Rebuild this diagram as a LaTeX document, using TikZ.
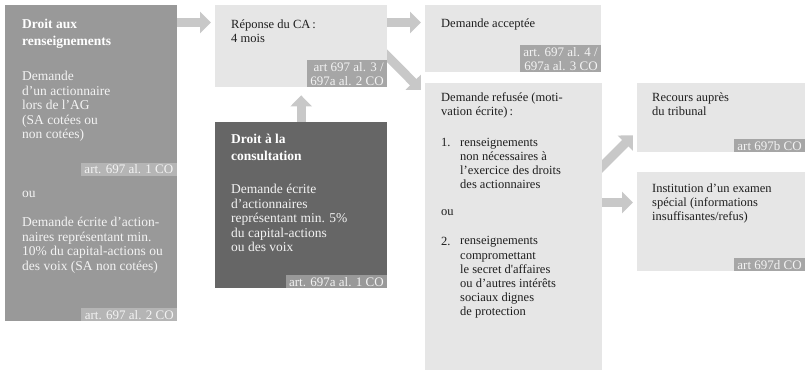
\documentclass[tikz,border=0pt]{standalone}
\usepackage{fontspec}
\setmainfont{Liberation Serif}
\usetikzlibrary{arrows.meta,positioning,backgrounds}
\definecolor{boxGray}{RGB}{153,153,153}
\definecolor{boxDark}{RGB}{102,102,102}
\definecolor{boxLight}{RGB}{230,230,230}
\definecolor{tagPale}{RGB}{181,181,181}
\definecolor{tagGray}{RGB}{166,166,166}
\definecolor{arrowGray}{RGB}{200,200,200}
\definecolor{inkDark}{RGB}{30,30,30}
\definecolor{inkPale}{RGB}{243,243,243}

\begin{document}
\begin{tikzpicture}[x=1pt,y=-1pt,
  box/.style={rectangle,anchor=north west,inner sep=0pt},
  bodylight/.style={anchor=north west,inner sep=0pt,align=left,text=inkPale,font={\fontsize{13.5}{14.5}\selectfont}},
  bodydark/.style={bodylight,text=inkDark,font={\fontsize{12.5}{14.1}\selectfont}},
  oneline/.style={anchor=base west},
  title/.style={bodylight,text=white,font={\fontsize{13.5}{17}\selectfont\bfseries}},
  tag/.style={anchor=south east,fill=#1,text=inkPale,inner xsep=3.5pt,inner ysep=2pt,align=right,font={\fontsize{13}{14}\selectfont}},
  fatarrow/.style={draw=arrowGray,line width=9pt,-{Triangle[length=11pt,width=21pt]}}]
\useasboundingbox (0,0) rectangle (805,370);

\node[box,fill=boxGray,minimum width=172pt,minimum height=316pt] (rens) at (5,5) {};
\node[title] (renstitle) at (22,19) {Droit aux\\renseignements};
\node[bodylight] (rensAG) at (22,71) {Demande\\d’un actionnaire\\lors de l’AG\\(SA cotées ou\\non cotées)};
\node[tag=tagPale] (rensart1) at (177,176) {art. 697 al. 1 CO};
\node[bodylight,oneline] (rensou) at (22,197) {ou};
\node[bodylight] (rensecrit) at (22,217) {Demande écrite d’action-\\naires représentant min.\\10\% du capital-actions ou\\des voix (SA non cotées)};
\node[tag=tagPale] (rensart2) at (rens.south east) {art. 697 al. 2 CO};

\node[box,fill=boxLight,minimum width=172pt,minimum height=82pt] (rep) at (215,5) {};
\node[bodydark] (reptext) at (231,19.5) {Réponse du CA\,:\\4 mois};
\node[tag=tagGray] (repart) at (rep.south east) {art 697 al. 3 /\\697a al. 2 CO};

\node[box,fill=boxDark,minimum width=172pt,minimum height=166pt] (consult) at (215,122) {};
\node[title] (consulttitle) at (231,134) {Droit à la\\consultation};
\node[bodylight] (consulttext) at (231,184) {Demande écrite\\d’actionnaires\\représentant min. 5\%\\du capital-actions\\ou des voix};
\node[tag=boxGray] (consultart) at (consult.south east) {art. 697a al. 1 CO};

\node[box,fill=boxLight,minimum width=176pt,minimum height=67pt] (accept) at (425,5) {};
\node[bodydark] (accepttext) at (441,18.5) {Demande acceptée};
\node[tag=tagGray] (acceptart) at (accept.south east) {art. 697 al. 4 /\\697a al. 3 CO};

\node[box,fill=boxLight,minimum width=177pt,minimum height=287pt] (refus) at (425,83) {};
\node[bodydark] (refustext) at (441,92.5) {Demande refusée (moti-\\vation écrite)\,:};
\node[bodydark,oneline] (refusnum1) at (441,146.5) {1.};
\node[bodydark] (refusmotif1) at (460,138) {renseignements\\non nécessaires à\\l’exercice des droits\\des actionnaires};
\node[bodydark,oneline] (refusou) at (441,215) {ou};
\node[bodydark,oneline] (refusnum2) at (441,245) {2.};
\node[bodydark] (refusmotif2) at (460,236.5) {renseignements\\compromettant\\le secret d\textquotesingle affaires\\ou d’autres intérêts\\sociaux dignes\\de protection};

\node[box,fill=boxLight,minimum width=168pt,minimum height=69pt] (recours) at (637,83) {};
\node[bodydark] (recourstext) at (652,92.5) {Recours auprès\\du tribunal};
\node[tag=tagGray] (recoursart) at (recours.south east) {art 697b CO};

\node[box,fill=boxLight,minimum width=168pt,minimum height=99pt] (examen) at (637,172) {};
\node[bodydark] (examentext) at (652,183.5) {Institution d’un examen\\spécial (informations\\insuffisantes/refus)};
\node[tag=tagGray] (examenart) at (examen.south east) {art 697d CO};

\begin{scope}[on background layer]
\draw[fatarrow,shorten >=4pt] ([yshift=-17.5pt]rens.north east) -- ([yshift=-17.5pt]rep.north west);
\draw[fatarrow,shorten >=4pt] ([yshift=-17.5pt]rep.north east) -- ([yshift=-17.5pt]accept.north west);
\draw[fatarrow,shorten >=8pt] (consult.north) -- (rep.south);
\draw[fatarrow] ([shift={(-10,41)}]rep.north east) -- ([shift={(-4,7)}]refus.north west);
\draw[fatarrow] ([shift={(-10,93)}]refus.north east) -- ([shift={(-4,-17)}]recours.south west);
\draw[fatarrow,shorten >=4pt] ([yshift=-30.5pt]examen.north west -| refus.east) -- ([yshift=-30.5pt]examen.north west);
\end{scope}
\end{tikzpicture}
\end{document}
